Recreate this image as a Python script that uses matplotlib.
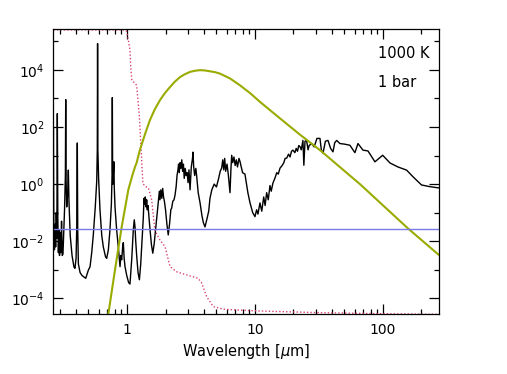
import numpy as np
import matplotlib
matplotlib.use('Agg')
import matplotlib.pyplot as plt
from matplotlib.ticker import FixedLocator, NullFormatter, FixedFormatter

plt.rcParams['font.family'] = ['DejaVu Sans']
plt.rcParams['mathtext.fontset'] = 'dejavusans'

# gas opacity (black): wavelength [um], log10 opacity [cm^2 g^-1]
wl_gas = [0.264, 0.266, 0.268, 0.271, 0.274, 0.277, 0.280, 0.283, 0.2855, 0.288,
          0.291, 0.294, 0.297, 0.300, 0.304, 0.308, 0.312, 0.316, 0.320, 0.325,
          0.330, 0.332, 0.334, 0.338, 0.344, 0.348, 0.352, 0.360, 0.372, 0.385,
          0.392, 0.400, 0.405, 0.409, 0.412, 0.417, 0.430, 0.445, 0.476, 0.500,
          0.514, 0.530, 0.545, 0.565, 0.580, 0.586, 0.589, 0.592, 0.600, 0.615,
          0.635, 0.653, 0.680, 0.694, 0.715, 0.736, 0.755, 0.764, 0.768, 0.772,
          0.776, 0.790, 0.795, 0.806, 0.830, 0.855, 0.882, 0.895, 0.909, 0.925,
          0.936, 0.950, 0.965, 0.995, 1.03, 1.055, 1.09, 1.12, 1.14, 1.155,
          1.17, 1.19, 1.22, 1.25, 1.28, 1.31, 1.34, 1.358, 1.375, 1.39,
          1.41, 1.425, 1.44, 1.46, 1.50, 1.55, 1.59, 1.63, 1.68, 1.72,
          1.76, 1.79, 1.81, 1.84, 1.87, 1.90, 1.93, 1.96, 2.00, 2.05,
          2.10, 2.15, 2.20, 2.234, 2.28, 2.33, 2.37, 2.42, 2.46, 2.50,
          2.53, 2.56, 2.60, 2.64, 2.68, 2.72, 2.76, 2.80, 2.85, 2.90,
          2.95, 3.00, 3.05, 3.11, 3.18, 3.25, 3.28, 3.32, 3.38, 3.45,
          3.50, 3.60, 3.72, 3.85, 3.95, 4.07, 4.2, 4.35, 4.45, 4.6,
          4.8, 5.0, 5.2, 5.35, 5.49, 5.6, 5.7, 5.8, 5.9, 6.05,
          6.2, 6.38, 6.5, 6.58, 6.7, 6.85, 7.0, 7.15, 7.3, 7.5,
          7.63, 8.0, 8.35, 8.8, 9.14, 9.6, 10.0, 10.3, 10.55, 10.94,
          11.3, 11.7, 12.0, 12.34, 12.7, 13.1, 13.4, 13.8, 14.3, 14.8,
          15.2, 15.7, 16.3, 16.8, 17.2, 17.7, 18.3, 18.8, 19.3, 19.8,
          20.5, 21.0, 21.5, 22.0, 22.5, 23.0, 23.7, 24.1, 24.6, 25.3,
          26.0, 26.5, 27.7, 29.0, 30.5, 32.2, 33.0, 34.0, 35.5, 37.2,
          39.0, 40.7, 42.0, 43.5, 46.1, 50.0, 55.2, 60.4, 63.8, 69.8,
          76.4, 86.6, 99.5, 113.5, 131, 153, 171.5, 200, 233, 269, 275]
logk_gas = [-2.0, 1.96, -1.5, -2.3, -1.4, -2.2, -1.0, -1.9, 2.47, -1.2,
            -2.4, -1.6, -2.5, -1.7, -2.4, -1.3, -2.5, -2.45, -1.8, -0.9,
            0.3, 2.96, 0.2, -0.8, -0.3, 0.49, -0.6, -1.8, -2.5, -2.9,
            -2.95, -2.6, -1.5, 1.44, -1.6, -2.8, -3.1, -3.2, -3.3, -3.0,
            -2.9, -2.4, -1.8, -0.8, 0.1, 1.2, 4.92, 1.2, 0.2, -0.9,
            -1.8, -2.2, -2.55, -2.6, -2.3, -1.6, -0.7, 0.3, 3.03, 0.5,
            0.0, 0.78, -0.1, -0.8, -1.6, -2.2, -2.89, -2.5, -2.65, -2.2,
            -2.05, -2.6, -2.89, -3.2, -3.45, -3.5, -2.6, -1.6, -1.25, -1.5,
            -2.0, -2.5, -3.1, -3.35, -2.8, -2.0, -1.2, -0.5, -0.7, -0.45,
            -0.8, -0.55, -0.9, -0.75, -1.4, -2.1, -2.42, -2.1, -1.5, -1.0,
            -0.6, -0.25, -0.55, -0.2, -0.5, -0.15, -0.45, -0.6, -0.9, -1.4,
            -1.78, -1.4, -0.9, -0.84, -0.6, -0.55, -0.4, -0.1, 0.3, 0.49,
            0.7, 0.4, 0.75, 0.55, 0.85, 0.45, 0.7, 0.2, 0.55, 0.3,
            0.4, 0.05, 0.5, -0.2, 0.6, 0.9, 1.12, 0.6, 0.3, 0.55,
            0.3, -0.3, -0.65, -1.1, -1.35, -1.5, -1.25, -0.95, -0.5, -0.2,
            0.0, -0.1, 0.2, 0.45, 0.56, 0.85, 0.5, 0.9, 0.45, 0.7,
            0.3, -0.3, 0.6, 1.01, 0.75, 0.95, 0.65, 0.85, 0.6, 0.9,
            0.8, 0.4, 0.35, -0.3, -0.65, -1.0, -1.14, -0.9, -1.05, -0.66,
            -0.95, -0.45, -0.75, -0.3, -0.55, -0.05, -0.25, 0.03, 0.2, 0.4,
            0.35, 0.56, 0.65, 0.75, 0.9, 0.91, 1.05, 0.95, 1.15, 1.19,
            1.1, 1.25, 1.15, 1.35, 1.31, 1.2, 1.53, 0.66, 1.5, 1.53,
            1.2, 1.35, 1.42, 1.3, 1.6, 1.6, 1.2, 1.08, 1.5, 1.53,
            1.25, 1.13, 1.45, 1.53, 1.42, 1.4, 1.36, 1.1, 1.42, 1.19,
            1.16, 0.78, 1.01, 0.74, 0.6, 0.49, 0.26, -0.03, -0.09, -0.13, -0.13]

# cloud / dust opacity (red dotted)
wl_dust = [0.25, 0.965, 0.99, 1.01, 1.055, 1.07, 1.09, 1.14, 1.19, 1.25, 1.29,
           1.33, 1.38, 1.47, 1.56, 1.65, 1.81, 1.98, 2.17, 2.44, 2.92,
           3.6, 3.83, 4.19, 4.72, 5.67, 7.19, 10.3, 30.0, 100.0, 275.0]
logk_dust = [5.40, 5.40, 5.36, 5.2, 4.69, 4.1, 3.64, 3.55, 3.46, 2.35, 1.19,
             0.03, -0.07, -0.14, -0.56, -1.61, -1.96, -2.19, -2.89, -3.07, -3.18,
             -3.30, -3.46, -3.94, -4.29, -4.38, -4.41, -4.44, -4.5, -4.54, -4.56]

# weighting function (green)
wl_bb = [0.686, 0.714, 0.806, 0.909, 1.024, 1.10, 1.155, 1.19, 1.26, 1.383,
         1.51, 1.65, 1.81, 1.98, 2.17, 2.37, 2.60, 2.84, 3.11, 3.40,
         3.72, 4.07, 4.45, 4.87, 5.32, 6.38, 7.63, 9.14, 10.94, 13.1,
         15.7, 22.5, 32.2, 66.1, 156.7, 275.0]
logk_bb = [-5.1, -4.56, -3.0, -1.5, -0.2, 0.3, 0.6, 0.75, 1.19, 1.75,
           2.24, 2.62, 2.94, 3.19, 3.40, 3.59, 3.75, 3.85, 3.93, 3.97,
           3.99, 3.98, 3.95, 3.92, 3.87, 3.70, 3.46, 3.19, 2.88, 2.59,
           2.30, 1.73, 1.19, 0.0, -1.55, -2.49]

# constant (blue)
kappa_const = 0.0275

xlim = (0.264, 274)
ylim = (10**-4.56, 10**5.42)

fig = plt.figure(figsize=(5.07, 3.74), dpi=100)
ax = fig.add_axes([0.1045, 0.1596, 0.7613, 0.762])

ax.plot(wl_gas, 10**np.array(logk_gas), color='black', lw=1.0)
ax.plot(wl_dust, 10**np.array(logk_dust), color='#d9446e', lw=1.0, ls=(0, (1, 1.5)))
ax.plot(wl_bb, 10**np.array(logk_bb), color='#9aab00', lw=1.5)
ax.axhline(kappa_const, color='#7a7aee', lw=1.0)

ax.set_xscale('log')
ax.set_yscale('log')
ax.set_xlim(*xlim)
ax.set_ylim(*ylim)

# x ticks
ax.xaxis.set_major_locator(FixedLocator([1, 10, 100]))
ax.xaxis.set_major_formatter(FixedFormatter(['1', '10', '100']))
xminor = [0.3, 0.4, 0.5, 0.6, 0.7, 0.8, 0.9, 2, 3, 4, 5, 6, 7, 8, 9,
          20, 30, 40, 50, 60, 70, 80, 90, 200]
ax.xaxis.set_minor_locator(FixedLocator(xminor))
ax.xaxis.set_minor_formatter(NullFormatter())

# y ticks
ymajor = [1e-4, 1e-2, 1e0, 1e2, 1e4]
ax.yaxis.set_major_locator(FixedLocator(ymajor))
ax.yaxis.set_major_formatter(FixedFormatter([r'$10^{-4}$', r'$10^{-2}$', r'$10^{0}$',
                                             r'$10^{2}$', r'$10^{4}$']))
ax.yaxis.set_minor_locator(FixedLocator([1e-3, 1e-1, 1e1, 1e3, 1e5]))
ax.yaxis.set_minor_formatter(NullFormatter())

ax.tick_params(which='both', direction='in', top=True, right=True, labelsize=10,
               width=0.9, pad=6)
ax.tick_params(which='major', length=7)
ax.tick_params(which='minor', length=3.5)
for s in ax.spines.values():
    s.set_linewidth(0.9)

ax.set_xlabel(r'Wavelength [$\mu$m]', fontsize=10.5, labelpad=4)
# the reference clips this label at the left edge of the figure
ax.set_ylabel(r'Opacity [cm$^2$ g$^{-1}$]', fontsize=10.5)
ax.yaxis.set_label_coords(-0.135, 0.5)

ax.text(0.842, 0.916, '1000 K', transform=ax.transAxes, fontsize=10.5, va='center')
ax.text(0.842, 0.814, '1 bar', transform=ax.transAxes, fontsize=10.5, va='center')

fig.savefig('out.png', dpi=100)
